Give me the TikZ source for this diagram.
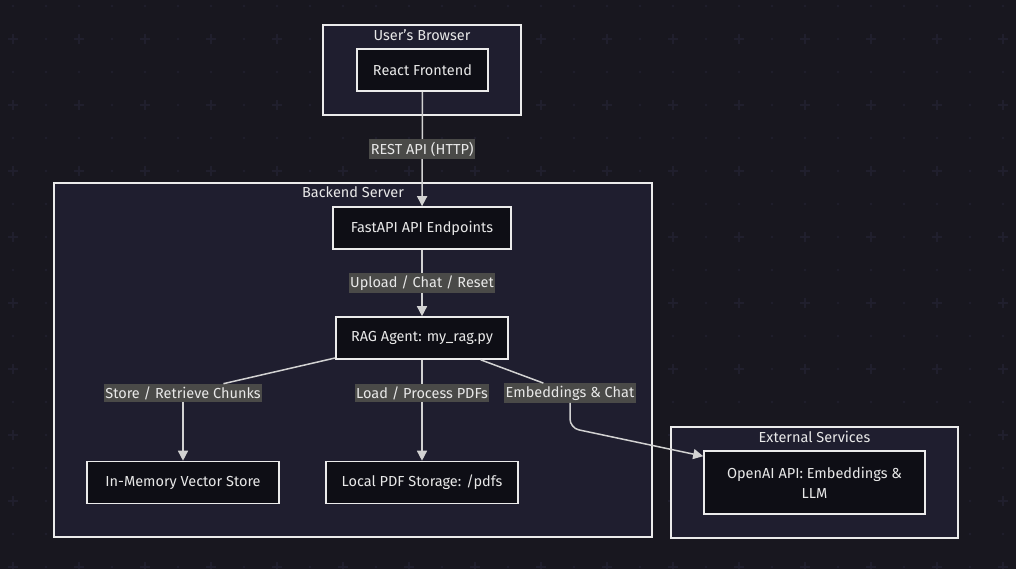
\documentclass[tikz,border=0pt]{standalone}
\usepackage{fontspec}
\setmainfont{Fira Sans}
\usetikzlibrary{arrows.meta}
\usetikzlibrary{calc}

\definecolor{bgcol}{HTML}{18171F}
\definecolor{clustercol}{HTML}{1F1E2F}
\definecolor{boxcol}{HTML}{0E0E15}
\definecolor{edgecol}{HTML}{D2D2D2}
\definecolor{lblcol}{HTML}{4A4A48}
\definecolor{txtcol}{HTML}{E8E8E8}
\definecolor{gridcol}{HTML}{201F2D}

\tikzset{
  cluster/.style={draw=white!92!black, line width=1.6pt, fill=clustercol, inner sep=0pt},
  title/.style={text=txtcol, font=\fontsize{14.5}{17}\selectfont, inner sep=0pt},
  box/.style={draw=white!92!black, line width=1.6pt, fill=boxcol, text=txtcol,
    font=\fontsize{14.5}{20}\selectfont, inner sep=0pt, minimum height=42pt, align=center},
  lbl/.style={fill=lblcol, text=txtcol, font=\fontsize{14.5}{17}\selectfont,
    inner xsep=1.5pt, inner ysep=2.5pt},
  edge/.style={draw=edgecol, line width=1.5pt},
  tip/.style={-{Triangle[length=10pt,width=10pt]}},
}

\begin{document}
\begin{tikzpicture}[x=1pt,y=-1pt]
  \fill[bgcol] (0,0) rectangle (1016,569);
  \useasboundingbox (0,0) rectangle (1016,569);
  % background grid
  \foreach \x in {13,46,...,1016}
    \foreach \y in {6,39,...,569}
      \fill[gridcol] (\x,\y) circle (1.3);
  \foreach \x in {13,79,...,1016}
    \foreach \y in {39,105,...,569}
      \draw[gridcol, line width=1.5] (\x-5,\y) -- (\x+5,\y) (\x,\y-5) -- (\x,\y+5);

  % clusters
  \node[cluster, minimum width=198, minimum height=90] (browser) at (422,70) {};
  \node[title] (browsertitle) at (422,35) {User's Browser};
  \node[cluster, minimum width=598, minimum height=354] (backend) at (353,360) {};
  \node[title] (backendtitle) at (353,192) {Backend Server};
  \node[cluster, minimum width=287, minimum height=111] (external) at (814.5,482.5) {};
  \node[title] (externaltitle) at (814.5,437) {External Services};

  % nodes
  \node[box, minimum width=131] (react) at (422.5,70) {React Frontend};
  \node[box, minimum width=178] (fastapi) at (422,228) {FastAPI API Endpoints};
  \node[box, minimum width=172] (rag) at (422,338) {RAG Agent: my\_rag.py};
  \node[box, minimum width=192] (vector) at (183,482.5) {In-Memory Vector Store};
  \node[box, minimum width=192] (pdfstore) at (422,482.5) {Local PDF Storage: /pdfs};
  \node[box, minimum width=221, minimum height=63] (openai) at (814.5,482.5)
    {OpenAI API: Embeddings \&\\LLM};

  % edges
  \draw[edge,tip] (react) -- (fastapi) node[lbl, pos=0.5] (restlbl) {REST API (HTTP)};
  \draw[edge,tip] (fastapi) -- (rag) node[lbl, pos=0.5] (uploadlbl) {Upload / Chat / Reset};

  \node[lbl] (storelbl) at (183,393) {Store / Retrieve Chunks};
  \node[lbl] (loadlbl) at (422,393) {Load / Process PDFs};
  \node[lbl] (embedlbl) at (570,393) {Embeddings \& Chat};

  \draw[edge] (rag) -- (storelbl);
  \draw[edge,tip] (storelbl) -- (vector);
  \draw[edge] (rag) -- (loadlbl);
  \draw[edge,tip] (loadlbl) -- (pdfstore);
  \draw[edge] (rag) -- (embedlbl);
  \draw[edge,tip,rounded corners=9pt] (embedlbl.south) -- (570,428)
    -- ($(openai.north west)+(0,6)$);
\end{tikzpicture}
\end{document}
